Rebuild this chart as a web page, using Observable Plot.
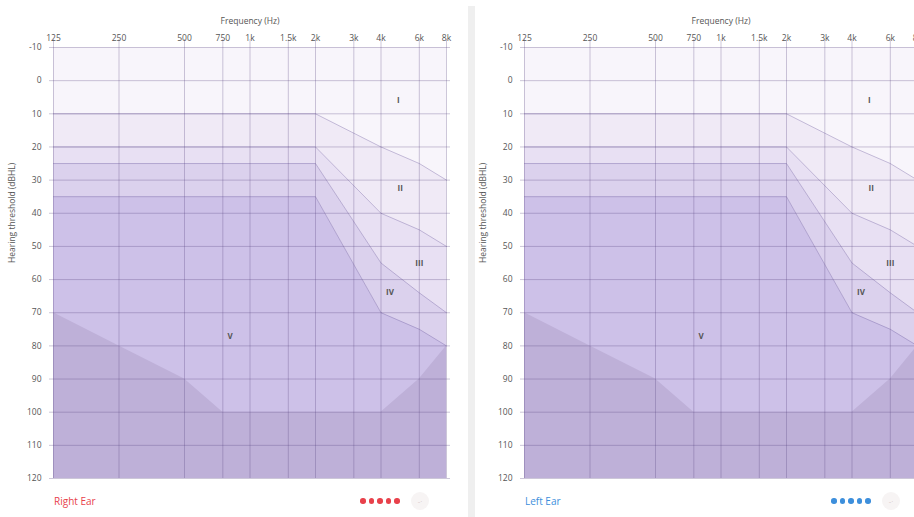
<!DOCTYPE html>
<html>
<head>
<meta charset="utf-8">
<script src="https://cdn.jsdelivr.net/npm/d3@7"></script>
<script src="https://cdn.jsdelivr.net/npm/@observablehq/plot@0.6"></script>
<style>
  html, body { margin: 0; padding: 0; background: #fff; }
  #root { position: relative; width: 914px; height: 517px; overflow: hidden; background: #fff;
          font-family: "Open Sans", "Noto Sans", sans-serif; }
  .panel { position: absolute; top: 0; width: 460px; height: 490px; }
  .panel svg { max-width: none !important; display: block; }
  .sep { position: absolute; left: 468px; top: 6px; width: 7px; height: 511px; background: #efefef; }
  .legend { position: absolute; font-size: 10px; line-height: 14px; }
  .dots { position: absolute; height: 6px; display: flex; gap: 3px; }
  .dots span { width: 5.5px; height: 5.5px; border-radius: 50%; display: block; }
  .icon { position: absolute; width: 18px; height: 18px; border-radius: 50%; background: #f7f4f4;
          color: #d8cccc; font-size: 8px; line-height: 18px; text-align: center; }
</style>
</head>
<body>
<div id="root"></div>
<script>
// ---- data ----
const freqTicks = [125, 250, 500, 750, 1000, 1500, 2000, 3000, 4000, 6000, 8000];
const freqLabels = ["125", "250", "500", "750", "1k", "1.5k", "2k", "3k", "4k", "6k", "8k"];
const dbTicks = [-10, 0, 10, 20, 30, 40, 50, 60, 70, 80, 90, 100, 110, 120];

// zone boundaries (upper edge of each zone)
const topFreq = [125, 8000];
const topDb = [-10, -10];
const b1Freq = [125, 2000, 4000, 6000, 8000];
const b1Db = [10, 10, 20, 25, 30];
const b2Freq = [125, 2000, 4000, 6000, 8000];
const b2Db = [20, 20, 40, 45, 50];
const b3Freq = [125, 2000, 4000, 6000, 8000];
const b3Db = [25, 25, 55, 64, 70];
const b4Freq = [125, 2000, 4000, 6000, 8000];
const b4Db = [35, 35, 70, 75, 80];
const b5Freq = [125, 250, 500, 750, 4000, 6000, 8000];
const b5Db = [70, 80, 90, 100, 100, 90, 80];

const zoneNames = ["I", "II", "III", "IV", "V"];
const zoneFreq = [4800, 4900, 6000, 4400, 810];
const zoneDb = [6, 32.5, 55, 64, 77];

const ears = ["Right Ear", "Left Ear"];
const earColors = ["#e8414b", "#3d8fdc"];

// ---- build ----
const fills = ["#f8f5fb", "#f0eaf6", "#e8e0f3", "#dbd1ed", "#cdc1e8", "#beb0d8"];
const toPts = (F, D) => F.map((f, i) => ({f, db: D[i]}));
const layers = [toPts(topFreq, topDb), toPts(b1Freq, b1Db), toPts(b2Freq, b2Db),
                toPts(b3Freq, b3Db), toPts(b4Freq, b4Db), toPts(b5Freq, b5Db)];
const lines = layers.slice(1, 5);
const zones = zoneNames.map((n, i) => ({n, f: zoneFreq[i], db: zoneDb[i]}));
const labelOf = new Map(freqTicks.map((f, i) => [f, freqLabels[i]]));
const font = '"Open Sans", "Noto Sans", sans-serif';
const gridStroke = "#5a4682";

function panel() {
  return Plot.plot({
    width: 460, height: 490,
    marginLeft: 53, marginRight: 14, marginTop: 47, marginBottom: 12,
    x: {type: "log", domain: [125, 8000], axis: null},
    y: {domain: [-10, 120], reverse: true, axis: null},
    style: {fontFamily: font, fontSize: "9px", color: "#555", background: "transparent", overflow: "visible"},
    marks: [
      ...layers.map((L, i) => Plot.areaY(L, {x: "f", y1: "db", y2: () => 120, fill: fills[i]})),
      ...lines.map((L) => Plot.line(L, {x: "f", y: "db", stroke: "#6a5a9a", strokeOpacity: 0.35, strokeWidth: 1})),
      Plot.ruleY(dbTicks, {stroke: gridStroke, strokeOpacity: 0.3, insetLeft: -4, insetRight: -4}),
      Plot.ruleX(freqTicks, {stroke: gridStroke, strokeOpacity: 0.3, insetTop: -8}),
      Plot.text(freqTicks, {x: (d) => d, text: (d) => labelOf.get(d), frameAnchor: "top", dy: -13, fill: "#555", fontSize: 8.5}),
      Plot.text(dbTicks, {y: (d) => d, text: (d) => String(d), frameAnchor: "left", dx: -12, textAnchor: "end", fill: "#555", fontSize: 8.5}),
      Plot.text(["Frequency (Hz)"], {frameAnchor: "top", dy: -30, fill: "#555", fontSize: 8.5}),
      Plot.text(["Hearing threshold (dBHL)"], {frameAnchor: "left", dx: -41, rotate: -90, fill: "#555", fontSize: 8.5}),
      Plot.text(zones, {x: "f", y: "db", text: "n", fill: "#555", fontSize: 8, fontWeight: "bold"})
    ]
  });
}

const root = document.getElementById("root");
const offsets = [0, 471];
ears.forEach((ear, i) => {
  const wrap = document.createElement("div");
  wrap.className = "panel";
  wrap.style.left = offsets[i] + "px";
  wrap.appendChild(panel());
  root.appendChild(wrap);

  const lg = document.createElement("div");
  lg.className = "legend";
  lg.style.left = (offsets[i] + 54) + "px";
  lg.style.top = "494px";
  lg.style.color = earColors[i];
  lg.textContent = ear;
  root.appendChild(lg);

  const dots = document.createElement("div");
  dots.className = "dots";
  dots.style.left = (offsets[i] + 360) + "px";
  dots.style.top = "498px";
  for (let k = 0; k < 5; k++) {
    const s = document.createElement("span");
    s.style.background = earColors[i];
    dots.appendChild(s);
  }
  root.appendChild(dots);

  const ic = document.createElement("div");
  ic.className = "icon";
  ic.style.left = (offsets[i] + 411) + "px";
  ic.style.top = "492px";
  ic.textContent = "-·";
  root.appendChild(ic);
});
const sep = document.createElement("div");
sep.className = "sep";
root.appendChild(sep);
</script>
</body>
</html>
